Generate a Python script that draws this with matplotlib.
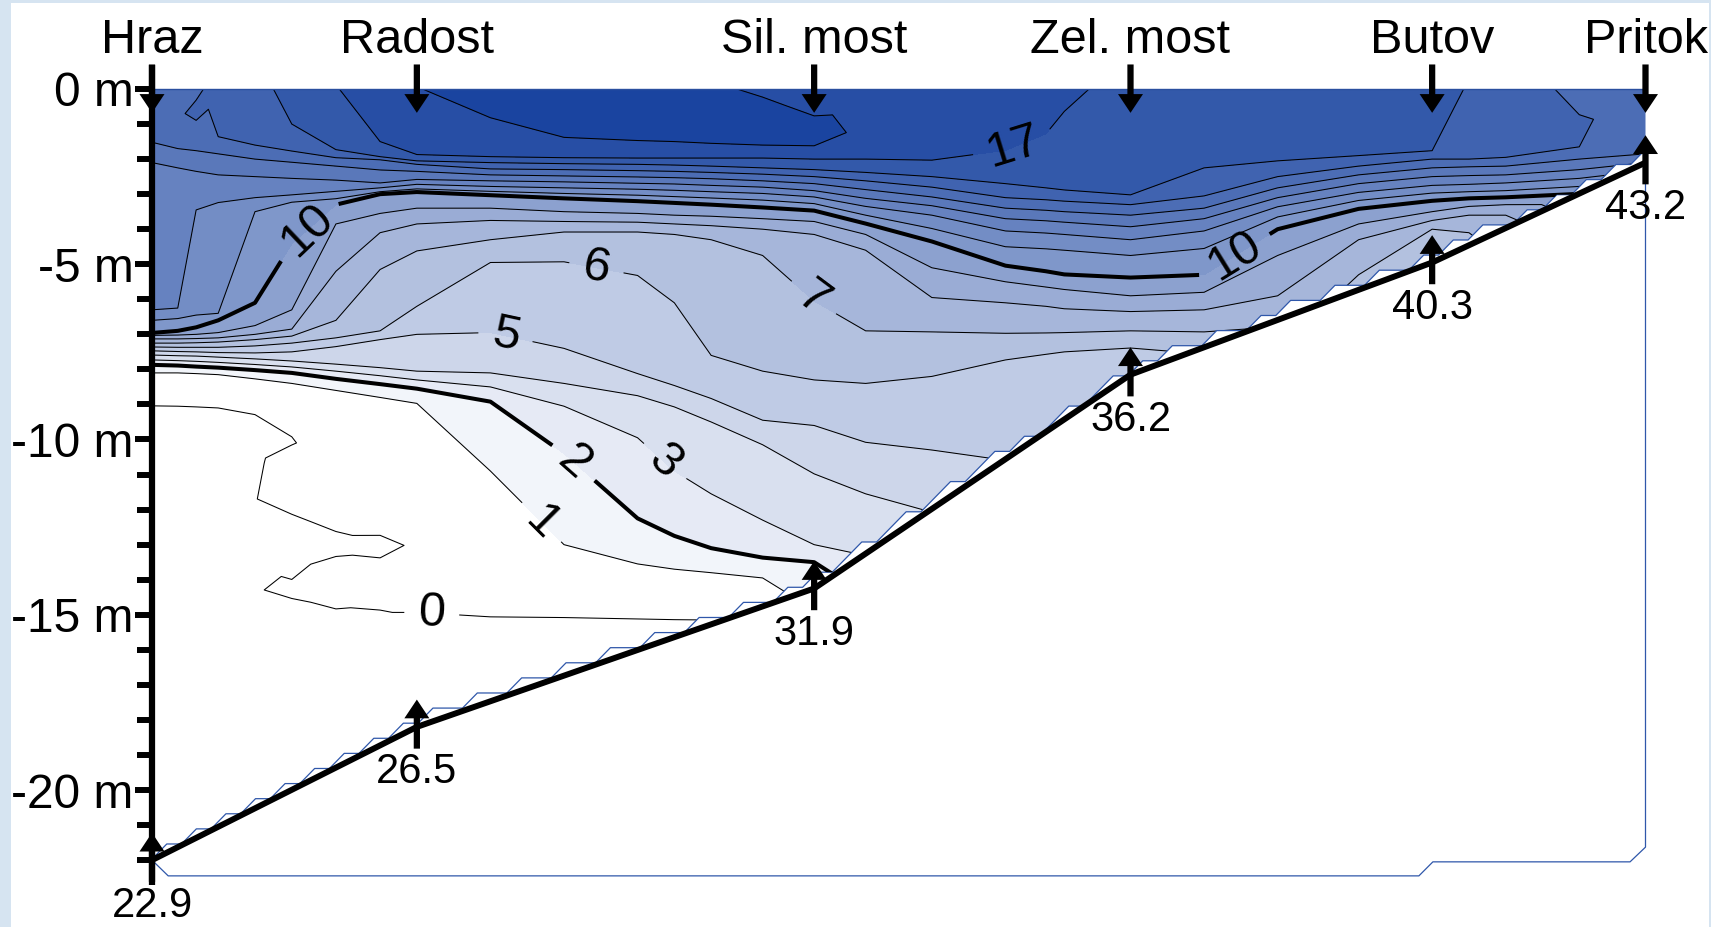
import numpy as np
import matplotlib
matplotlib.use("Agg")
import matplotlib.pyplot as plt
import matplotlib.tri as mtri
from matplotlib.patches import PathPatch, Rectangle, FancyArrowPatch
from matplotlib.path import Path
from matplotlib.colors import LinearSegmentedColormap

plt.rcParams['font.family'] = ['Liberation Sans', 'DejaVu Sans']

# --- sampling stations along the reservoir (river km) and bottom depth (m) ---
station_names = ["Hraz", "Radost", "Sil. most", "Zel. most", "Butov", "Pritok"]
station_km = [22.9, 26.5, 31.9, 36.2, 40.3, 43.2]
station_bottom = [22.0, 18.2, 14.25, 8.15, 4.95, 2.1]

# --- oxygen profiles: km of each profile, depths (m) and values (mg/l) ---
profile_km = [22.9, 23.25, 23.5, 23.8, 24.3, 24.8, 25.4, 26.0, 26.5, 27.5,
              28.5, 29.5, 30.0, 30.5, 31.2, 31.9, 32.6, 33.5, 34.5, 35.05,
              35.3, 36.2, 37.2, 38.2, 39.3, 40.3, 40.8, 41.3, 42.3, 43.2]

profile_depth = [
    [0, 1.52, 2.1, 6.3, 6.6, 6.96, 7.03, 7.13, 7.25, 7.36, 7.47, 7.59, 7.73, 7.87, 8.1, 9.04, 22.0],
    [0, 0.7, 1.7, 2.25, 6.25, 6.55, 6.9, 7.02, 7.13, 7.25, 7.37, 7.49, 7.61, 7.75, 7.89, 8.1, 9.05, 21.63],
    [0, 0.7, 1.3, 1.76, 2.35, 3.45, 6.45, 6.8, 7.0, 7.12, 7.24, 7.37, 7.5, 7.62, 7.77, 7.92, 8.12, 9.07, 21.37],
    [0, 1.36, 1.85, 2.45, 3.24, 6.4, 6.6, 6.95, 7.1, 7.22, 7.37, 7.52, 7.65, 7.8, 7.95, 8.15, 9.1, 11.7, 21.05],
    [0, 1.6, 2.0, 2.5, 3.1, 3.5, 6.1, 6.75, 7.0, 7.15, 7.33, 7.53, 7.7, 7.86, 8.02, 8.27, 9.29, 10.5, 11.73, 13.0, 14.3, 20.52],
    [0, 1.0, 1.77, 2.09, 2.55, 3.02, 3.23, 4.42, 6.3, 6.85, 7.05, 7.25, 7.5, 7.76, 7.93, 8.1, 8.4, 9.5, 10.05, 10.6, 11.2, 12.6, 13.3, 14.27, 15.2, 19.99],
    [0, 1.73, 1.96, 2.2, 2.6, 2.92, 3.13, 3.3, 3.85, 5.2, 6.6, 7.1, 7.35, 7.85, 8.05, 8.27, 8.6, 10.5, 12.0, 13.0, 13.9, 15.3, 19.36],
    [0, 1.5, 1.93, 2.02, 2.31, 2.68, 2.82, 2.93, 3.0, 3.55, 4.1, 5.15, 6.9, 7.15, 7.95, 8.18, 8.42, 8.8, 10.8, 12.3, 13.06, 13.8, 15.4, 18.73],
    [0, 1.87, 2.05, 2.15, 2.35, 2.58, 2.72, 2.85, 2.94, 3.4, 3.85, 4.62, 6.2, 7.0, 8.05, 8.3, 8.55, 8.97, 11.0, 13.0, 14.0, 15.4, 18.2],
    [0, 0.82, 1.93, 2.1, 2.28, 2.45, 2.62, 2.78, 2.92, 3.03, 3.4, 3.75, 4.3, 4.95, 6.95, 8.1, 8.5, 8.92, 10.9, 13.0, 15.06, 17.47],
    [0, 1.38, 1.96, 2.13, 2.3, 2.48, 2.65, 2.82, 2.98, 3.12, 3.5, 3.78, 4.08, 4.93, 7.4, 8.4, 9.05, 10.4, 13.0, 15.08, 16.74],
    [0, 1.47, 1.97, 2.15, 2.33, 2.51, 2.69, 2.86, 3.03, 3.2, 3.55, 3.8, 4.08, 5.32, 8.12, 8.75, 9.95, 12.25, 13.55, 15.12, 16.0],
    [0, 1.5, 1.97, 2.17, 2.35, 2.53, 2.71, 2.89, 3.07, 3.25, 3.6, 3.85, 4.15, 6.1, 8.46, 9.07, 10.9, 12.75, 13.7, 15.14, 15.64],
    [0, 1.55, 1.97, 2.2, 2.38, 2.56, 2.75, 2.93, 3.11, 3.3, 3.63, 3.9, 4.3, 7.6, 8.83, 9.5, 11.55, 13.1, 13.8, 15.15, 15.27],
    [0, 0.85, 1.6, 1.97, 2.25, 2.43, 2.62, 2.8, 2.98, 3.17, 3.38, 3.7, 4.0, 4.75, 8.05, 9.45, 10.15, 12.3, 13.37, 13.95, 14.76],
    [0, 1.15, 1.62, 2.0, 2.3, 2.5, 2.7, 2.9, 3.08, 3.27, 3.47, 3.78, 4.15, 6.05, 8.3, 9.6, 10.98, 13.0, 13.5, 14.25],
    [0, 1.3, 2.0, 2.38, 2.62, 2.87, 3.12, 3.35, 3.6, 3.84, 4.15, 4.6, 6.9, 8.4, 10.08, 11.55, 13.26],
    [0, 2.03, 2.5, 2.8, 3.08, 3.33, 3.6, 3.98, 4.35, 5.1, 5.95, 6.93, 8.2, 10.3, 11.98],
    [0, 1.75, 2.7, 3.1, 3.4, 3.7, 4.05, 4.5, 5.04, 5.5, 6.1, 6.97, 7.73, 10.56],
    [0, 1.28, 2.82, 3.16, 3.46, 3.76, 4.11, 4.56, 5.2, 5.65, 6.2, 6.96, 7.57, 9.78],
    [0, 0.64, 2.88, 3.2, 3.5, 3.8, 4.15, 4.6, 5.29, 5.72, 6.27, 6.95, 7.5, 9.43],
    [0, 3.02, 3.3, 3.6, 3.93, 4.3, 4.75, 5.38, 5.9, 6.35, 6.9, 7.39, 8.15],
    [0, 2.25, 3.05, 3.4, 3.7, 4.05, 4.55, 5.3, 5.8, 6.3, 6.93, 7.37],
    [0, 2.05, 2.5, 2.82, 3.1, 3.36, 3.65, 4.0, 4.75, 5.9, 6.59],
    [0, 1.9, 2.2, 2.45, 2.7, 2.95, 3.18, 3.42, 3.85, 4.3, 5.3, 5.73],
    [0, 1.76, 2.0, 2.25, 2.5, 2.75, 2.97, 3.19, 3.5, 3.75, 4.0, 4.95],
    [0, 2.0, 2.22, 2.47, 2.72, 2.93, 3.12, 3.35, 3.6, 4.1, 4.46],
    [0, 1.95, 2.2, 2.45, 2.68, 2.9, 3.09, 3.3, 3.6, 3.97],
    [0, 1.1, 1.65, 2.0, 2.3, 2.55, 2.78, 2.98],
    [0, 1.85, 2.1],
]

profile_value = [
    [14.6, 14, 13, 12, 11, 10, 9, 8, 7, 6, 5, 4, 3, 2, 1, 0, -0.4],
    [14.75, 14.92, 14, 13, 12, 11, 10, 9, 8, 7, 6, 5, 4, 3, 2, 1, 0, -0.4],
    [14.9, 15.12, 14.75, 14, 13, 12, 11, 10, 9, 8, 7, 6, 5, 4, 3, 2, 1, 0, -0.4],
    [15.2, 15, 14, 13, 12, 11, 10, 9, 8, 7, 6, 5, 4, 3, 2, 1, 0, -0.15, -0.4],
    [15.75, 15, 14, 13, 12, 11, 10, 9, 8, 7, 6, 5, 4, 3, 2, 1, 0, -0.1, -0.02, -0.15, -0.02, -0.3],
    [16.25, 16, 15, 14, 13, 12, 11, 10, 9, 8, 7, 6, 5, 4, 3, 2, 1, 0.2, -0.06, 0.25, 0.3, -0.15, -0.15, 0.06, -0.15, -0.3],
    [16.95, 16, 15, 14, 13, 12, 11, 10, 9, 8, 7, 6, 5, 4, 3, 2, 1, 0.5, 0.2, -0.12, 0.2, -0.1, -0.3],
    [17.6, 17, 16, 15, 14, 13, 12, 11, 10, 9, 8, 7, 6, 5, 4, 3, 2, 1, 0.5, 0.2, -0.15, 0.2, -0.1, -0.3],
    [17.95, 17, 16, 15, 14, 13, 12, 11, 10, 9, 8, 7, 6, 5, 4, 3, 2, 1, 0.5, 0.08, 0.2, -0.1, -0.3],
    [18.6, 18, 17, 16, 15, 14, 13, 12, 11, 10, 9, 8, 7, 6, 5, 4, 3, 2, 1, 0.5, 0, -0.3],
    [18.8, 18, 17, 16, 15, 14, 13, 12, 11, 10, 9, 8, 7, 6, 5, 4, 3, 2, 1, 0, -0.2],
    [18.8, 18, 17, 16, 15, 14, 13, 12, 11, 10, 9, 8, 7, 6, 5, 4, 3, 2, 1, 0, -0.15],
    [18.6, 18, 17, 16, 15, 14, 13, 12, 11, 10, 9, 8, 7, 6, 5, 4, 3, 2, 1, 0, -0.1],
    [18.15, 18, 17, 16, 15, 14, 13, 12, 11, 10, 9, 8, 7, 6, 5, 4, 3, 2, 1, 0, -0.05],
    [17.85, 18.4, 18, 17, 16, 15, 14, 13, 12, 11, 10, 9, 8, 7, 6, 5, 4, 3, 2, 1, 0.6],
    [17.5, 18.25, 18, 17, 16, 15, 14, 13, 12, 11, 10, 9, 8, 7, 6, 5, 4, 3, 2, 1.3],
    [17.55, 17.85, 17, 16, 15, 14, 13, 12, 11, 10, 9, 8, 7, 6, 5, 4, 3.1],
    [17.4, 17, 16, 15, 14, 13, 12, 11, 10, 9, 8, 7, 6, 5, 4.05],
    [17.25, 17, 16, 15, 14, 13, 12, 11, 10, 9, 8, 7, 6, 5.02],
    [17.2, 17, 16, 15, 14, 13, 12, 11, 10, 9, 8, 7, 6, 5.2],
    [17.15, 17, 16, 15, 14, 13, 12, 11, 10, 9, 8, 7, 6, 5.3],
    [16.75, 16, 15, 14, 13, 12, 11, 10, 9, 8, 7, 6, 5.6],
    [16.7, 16, 15, 14, 13, 12, 11, 10, 9, 8, 7, 6.1],
    [16.6, 16, 15, 14, 13, 12, 11, 10, 9, 8, 7.4],
    [16.5, 16, 15, 14, 13, 12, 11, 10, 9, 8, 7, 6.8],
    [16.3, 16, 15, 14, 13, 12, 11, 10, 9, 8, 7, 6.5],
    [15.95, 15, 14, 13, 12, 11, 10, 9, 8, 7, 6.8],
    [15.6, 15, 14, 13, 12, 11, 10, 9, 8, 7.5],
    [14.7, 15.15, 15, 14, 13, 12, 11, 10.05],
    [14.45, 14, 13.0],
]

fill_levels = [-5, 0, 1, 2, 3, 4, 5, 6, 7, 8, 9, 10, 11, 12, 13, 14, 15, 16, 17, 18, 30]
bold_levels = [2, 10]
labelled_levels = [0, 1, 3, 5, 6, 7, 17]
plain_levels = [4, 8, 9, 11, 12, 13, 14, 15, 16, 18]

# --- figure layout (pixels -> figure fraction) ---
W, H = 1711, 927
fig = plt.figure(figsize=(W / 100, H / 100), dpi=100)
fig.patch.set_facecolor('#d6e4f1')
fig.add_artist(Rectangle((11 / W, 0), 1698 / W, 924 / H, transform=fig.transFigure,
                         facecolor='white', edgecolor='none', zorder=-5))

x_left, x_right = 152, 1645.5
y_top, y_bot = 89, 89 + 22.5 * 35.05
ax = fig.add_axes([x_left / W, (H - y_bot) / H, (x_right - x_left) / W, (y_bot - y_top) / H])
ax.set_facecolor('none')
ax.set_xlim(station_km[0], station_km[-1])
ax.set_ylim(-22.5, 0)
for s in ax.spines.values():
    s.set_visible(False)
ax.set_xticks([])

# --- triangulate neighbouring profiles strip by strip ---
px, py, pz, cols = [], [], [], []
for km, dep, val in zip(profile_km, profile_depth, profile_value):
    idx = []
    for d, v in zip(dep, val):
        idx.append(len(px))
        px.append(km)
        py.append(-d)
        pz.append(v)
    cols.append(idx)
px, py, pz = np.array(px, float), np.array(py, float), np.array(pz, float)

tris = []
for A, B in zip(cols[:-1], cols[1:]):
    i = j = 0
    while i < len(A) - 1 or j < len(B) - 1:
        if i == len(A) - 1:
            step_a = False
        elif j == len(B) - 1:
            step_a = True
        else:
            va, vb = pz[A[i + 1]], pz[B[j + 1]]
            if abs(va - vb) >= 0.5:
                step_a = va > vb
            else:
                step_a = py[A[i + 1]] >= py[B[j + 1]]
        if step_a:
            tris.append((A[i], A[i + 1], B[j]))
            i += 1
        else:
            tris.append((A[i], B[j + 1], B[j]))
            j += 1
tris = np.array(tris)
ar = ((px[tris[:, 1]] - px[tris[:, 0]]) * (py[tris[:, 2]] - py[tris[:, 0]])
      - (px[tris[:, 2]] - px[tris[:, 0]]) * (py[tris[:, 1]] - py[tris[:, 0]]))
tris[ar < 0] = tris[ar < 0][:, [0, 2, 1]]
tri = mtri.Triangulation(px, py, tris)

# --- blanking grid: staircase edge above the reservoir bottom ---
gx = np.linspace(station_km[0], station_km[-1], 102)
dy = 0.4308
gfloor = np.interp(gx, station_km, station_bottom)
kmax = np.floor(gfloor / dy + 1e-9).astype(int)
stair = [(gx[0], -kmax[0] * dy)]
for k in range(len(gx) - 1):
    a, b = kmax[k], kmax[k + 1]
    if a == b:
        stair.append((gx[k + 1], -b * dy))
    elif a > b:
        if a > b + 1:
            stair.append((gx[k], -(b + 1) * dy))
        stair.append((gx[k + 1], -b * dy))
    else:
        stair.append((gx[k + 1], -(a + 1) * dy))
        if b > a + 1:
            stair.append((gx[k + 1], -b * dy))
water = [(gx[0], 0.0)] + stair + [(gx[-1], 0.0)]
clip = PathPatch(Path(water + [water[0]]), transform=ax.transData, facecolor='none', edgecolor='none')

# --- filled contours ---
cmap = LinearSegmentedColormap.from_list('oxy', ['#ffffff', '#1a44a0'])
band_colors = [cmap(min(max(lv, 0), 18) / 18.0) for lv in fill_levels[:-1]]
cf = ax.tricontourf(tri, pz, levels=fill_levels, colors=band_colors, zorder=1)
cf.set_clip_path(clip)

lab_font = 35
ct_plain = ax.tricontour(tri, pz, levels=plain_levels, colors='k', linewidths=0.75, zorder=2)
ct_plain.set_clip_path(clip)
ct_lab = ax.tricontour(tri, pz, levels=labelled_levels, colors='k', linewidths=0.75, zorder=2)
ct_lab.set_clip_path(clip)
cb = ax.tricontour(tri, pz, levels=bold_levels, colors='k', linewidths=2.9, zorder=3)
cb.set_clip_path(clip)

ct_lab.clabel(manual=[(34.6, -1.62), (31.88, -6.0), (28.95, -5.0), (27.7, -7.1),
                      (29.84, -10.7), (28.13, -12.5), (26.7, -15.05)],
              inline=True, fmt='%d', fontsize=lab_font, inline_spacing=14)
cb.clabel(manual=[(25.0, -4.0), (37.6, -4.7), (28.62, -10.69)],
          inline=True, fmt='%d', fontsize=lab_font, inline_spacing=14)

# --- outline of the gridded area ---
outline_tail = [(43.2, -21.63), (42.99, -22.05), (40.31, -22.05), (40.12, -22.45),
                (23.12, -22.45), (22.9, -22.0)]
ox = [p[0] for p in stair] + [p[0] for p in outline_tail]
oy = [p[1] for p in stair] + [p[1] for p in outline_tail]
ax.plot(ox, oy, color='#2f57aa', lw=0.9, zorder=2.5, clip_on=False)
ax.plot([station_km[0], station_km[-1]], [0, 0], color='#2a4f9f', lw=1.0, zorder=2.5, clip_on=False)

# --- reservoir bottom ---
ax.plot(station_km, [-b for b in station_bottom], color='k', lw=4.3, zorder=4,
        solid_capstyle='butt', clip_on=False)

# --- depth axis ---
ax.plot([station_km[0], station_km[0]], [0.68, -22.72], color='k', lw=4.5, zorder=6,
        solid_capstyle='butt', clip_on=False)
major = [0, -5, -10, -15, -20]
ax.set_yticks(major)
ax.set_yticklabels(["0 m", "-5 m", "-10 m", "-15 m", "-20 m"])
ax.set_yticks([v for v in range(-22, 1) if v not in major], minor=True)
ax.tick_params(axis='y', which='major', length=12.5, width=4.3, pad=1.0, labelsize=34.5, colors='k')
ax.tick_params(axis='y', which='minor', length=11, width=4.3)

# --- station markers ---
def arrow(x, y0, y1):
    ax.add_patch(FancyArrowPatch((x, y0), (x, y1),
                                 arrowstyle='simple,head_length=0.75,head_width=1.0,tail_width=0.25',
                                 mutation_scale=18, color='k', lw=0, shrinkA=0, shrinkB=0,
                                 zorder=7, clip_on=False))

for name, km, bot in zip(station_names, station_km, station_bottom):
    ax.text(km, 1.03, name, ha='center', va='baseline', fontsize=35, clip_on=False)
    arrow(km, 0.7, -0.68)
    arrow(km, -bot - 0.62, -bot + 0.78)
    ax.text(km, -bot - 1.3, f"{km:.1f}", ha='center', va='center', fontsize=30, clip_on=False)

fig.savefig("out.png", dpi=100, facecolor=fig.get_facecolor())
